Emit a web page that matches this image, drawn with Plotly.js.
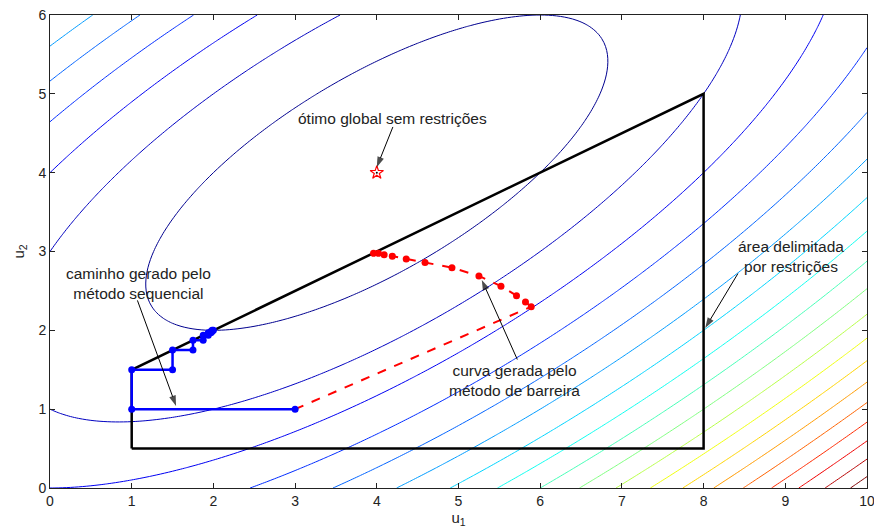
<!DOCTYPE html>
<html>
<head>
<meta charset="utf-8">
<script src="https://cdn.plot.ly/plotly-3.0.1.min.js"></script>
<style>html,body{margin:0;padding:0;background:#fff;}#chart{width:874px;height:529px;}</style>
</head>
<body>
<div id="chart"></div>
<script>
// Objective: f(u1,u2) = (u1 - u2)^2 + (u2 - 4)^2, minimum at (4,4)
const optimum = [4, 4];
const contourStart = 4, contourEnd = 112, contourStep = 6;
const gridX = []; for (let i = 0; i <= 200; i++) gridX.push(i * 0.05);
const gridY = []; for (let j = 0; j <= 120; j++) gridY.push(j * 0.05);
const gridZ = gridY.map(v => gridX.map(u => (u - v) * (u - v) + (v - optimum[1]) * (v - optimum[1])));

// constraint region
const regionX = [1, 1, 8, 8, 1];
const regionY = [0.5, 1.5, 5, 0.5, 0.5];

// sequential method path
const seqX = [3, 1, 1, 1.5, 1.5, 1.75, 1.75, 1.875, 1.875, 1.9375, 1.9375, 1.96875, 1.96875, 1.984, 1.984, 2];
const seqY = [1, 1, 1.5, 1.5, 1.75, 1.75, 1.875, 1.875, 1.9375, 1.9375, 1.96875, 1.96875, 1.984, 1.984, 2, 2];

// barrier method curve
const barX = [3, 5.89, 5.82, 5.71, 5.52, 5.25, 4.92, 4.59, 4.36, 4.19, 4.09, 4.02, 3.96];
const barY = [1, 2.30, 2.36, 2.44, 2.56, 2.69, 2.795, 2.86, 2.905, 2.94, 2.96, 2.977, 2.977];

// annotation arrows: [tailX, tailY, headX, headY]
const arrows = [
  [4.197, 4.58, 4.0, 4.07],
  [1.07, 2.38, 1.543, 1.04],
  [5.72, 1.63, 5.285, 2.64],
  [8.42, 2.72, 8.02, 2.03]
];

const xTicks = [0,1,2,3,4,5,6,7,8,9,10];
const yTicks = [0,1,2,3,4,5,6];

const jet = [[0,'rgb(0,0,143)'],[0.125,'rgb(0,0,255)'],[0.375,'rgb(0,255,255)'],[0.625,'rgb(255,255,0)'],[0.875,'rgb(255,0,0)'],[1,'rgb(128,0,0)']];

const traces = [
  {type:'contour', x:gridX, y:gridY, z:gridZ, zmin:0, zmax:116, colorscale:jet, showscale:false,
   contours:{coloring:'lines', start:contourStart, end:contourEnd, size:contourStep}, line:{width:1}, hoverinfo:'skip'},
  {type:'scatter', mode:'lines', x:regionX, y:regionY, line:{color:'black', width:2.5}},
  {type:'scatter', mode:'lines', x:barX.slice(0,2), y:barY.slice(0,2), line:{color:'rgb(255,0,0)', width:2, dash:'dash'}},
  {type:'scatter', mode:'lines+markers', x:barX.slice(1), y:barY.slice(1), line:{color:'rgb(255,0,0)', width:2, dash:'dash'}, marker:{color:'rgb(255,0,0)', size:7}},
  {type:'scatter', mode:'lines+markers', x:seqX, y:seqY, line:{color:'rgb(0,0,255)', width:2.5}, marker:{color:'rgb(0,0,255)', size:7}},
  {type:'scatter', mode:'markers', x:[optimum[0]], y:[optimum[1]], marker:{symbol:'star-open', color:'red', size:10, line:{width:1.2, color:'red'}}},
  {type:'scatter', mode:'markers', x:[optimum[0]], y:[optimum[1]], marker:{symbol:'circle', color:'black', size:2}}
];
arrows.forEach(a => {
  traces.push({type:'scatter', mode:'lines+markers', x:[a[0], a[2]], y:[a[1], a[3]],
    line:{color:'black', width:1},
    marker:{symbol:['circle','arrow'], size:[0, 11], angleref:'previous', color:'black', line:{width:0}}});
});

const tfont = {family:'Liberation Sans, Arial, sans-serif', size:15.5, color:'#222'};
function label(x, y, t){
  return {x:x, y:y, xref:'x', yref:'y', text:t, showarrow:false, font:tfont, align:'center'};
}

const layout = {
  width:874, height:529,
  margin:{l:50, r:7, t:15, b:41},
  paper_bgcolor:'white', plot_bgcolor:'white',
  showlegend:false,
  font:{family:'Liberation Sans, Arial, sans-serif', size:14, color:'#222'},
  xaxis:{range:[0,10], tickvals:xTicks, ticks:'inside', ticklen:5, tickcolor:'#222', showgrid:false, zeroline:false,
         showline:true, linecolor:'#222', linewidth:1, mirror:'allticks', tickfont:{size:14}, ticklabeloverflow:'allow',
         title:{text:'u<sub>1</sub>', font:{size:15}, standoff:4}},
  yaxis:{range:[0,6], tickvals:yTicks, ticks:'inside', ticklen:5, tickcolor:'#222', showgrid:false, zeroline:false,
         showline:true, linecolor:'#222', linewidth:1, mirror:'allticks', tickfont:{size:14}, ticklabeloverflow:'allow',
         title:{text:'u<sub>2</sub>', font:{size:15}, standoff:10}},
  annotations:[
    label(4.194, 4.69, 'ótimo global sem restrições'),
    label(1.082, 2.6, 'caminho gerado pelo<br>método sequencial'),
    label(5.69, 1.36, 'curva gerada pelo<br>método de barreira'),
    label(9.07, 2.94, 'área delimitada<br>por restrições')
  ]
};

Plotly.newPlot('chart', traces, layout, {displayModeBar:false, staticPlot:true});
</script>
</body>
</html>
